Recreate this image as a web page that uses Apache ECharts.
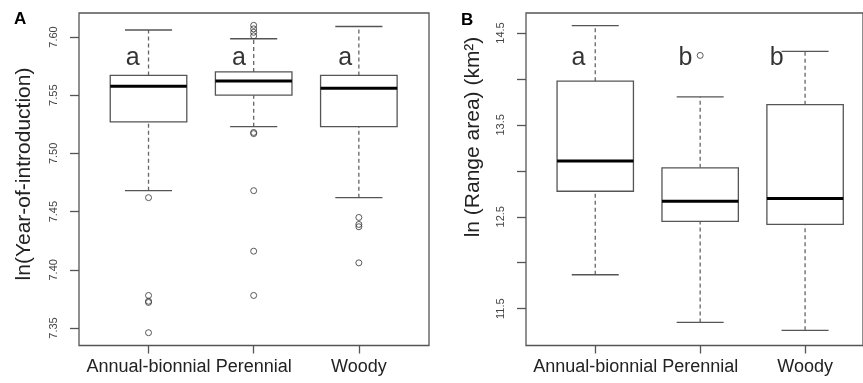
<!DOCTYPE html>
<html>
<head>
<meta charset="utf-8">
<script src="https://cdn.jsdelivr.net/npm/echarts@6/dist/echarts.min.js"></script>
<style>
  html, body { margin: 0; padding: 0; background: #fff; }
  #chart { width: 863px; height: 383px; }
</style>
</head>
<body>
<div id="chart"></div>
<script>
// 数据
var categories = ['Annual-bionnial', 'Perennial', 'Woody']

// [lower whisker, Q1, median, Q3, upper whisker]
var yearStats = [
  [7.468, 7.527, 7.5576, 7.567, 7.606],
  [7.523, 7.550, 7.5622, 7.570, 7.5985],
  [7.462, 7.523, 7.556, 7.567, 7.609]
]
// [category index, value]
var yearOutliers = [
  [1, 7.462], [1, 7.378], [1, 7.373], [1, 7.372], [1, 7.346],
  [2, 7.610], [2, 7.607], [2, 7.604], [2, 7.601], [2, 7.518], [2, 7.517],
  [2, 7.468], [2, 7.416], [2, 7.378],
  [3, 7.445], [3, 7.439], [3, 7.437], [3, 7.406]
]
var yearLetters = ['a', 'a', 'a']
var yearTicks = [7.35, 7.40, 7.45, 7.50, 7.55, 7.60]

var rangeStats = [
  [11.869, 12.778, 13.106, 13.976, 14.58],
  [11.35, 12.451, 12.669, 13.033, 13.805],
  [11.264, 12.418, 12.699, 13.72, 14.30]
]
var rangeOutliers = [
  [2, 14.256]
]
var rangeLetters = ['a', 'b', 'b']
var rangeTicks = [11.5, 12, 12.5, 13, 13.5, 14, 14.5]
var rangeTickLabels = [11.5, 12.5, 13.5, 14.5]

var FONT = '"Liberation Sans", Arial, sans-serif'

// 箱线图绘制
function boxItem (params, api) {
  var x = api.value(0)
  var lo = api.coord([x, api.value(1)])
  var q1 = api.coord([x, api.value(2)])
  var md = api.coord([x, api.value(3)])
  var q3 = api.coord([x, api.value(4)])
  var hi = api.coord([x, api.value(5)])
  var unit = api.size([1, 0])[0]
  var half = unit * 0.364
  var cap = unit * 0.224
  var cx = md[0]
  var edge = { stroke: '#555', lineWidth: 1.3 }
  var dash = { stroke: '#666', lineWidth: 1.3, lineDash: [4, 3] }
  return {
    type: 'group',
    children: [
      { type: 'line', shape: { x1: cx, y1: lo[1], x2: cx, y2: q1[1] }, style: dash },
      { type: 'line', shape: { x1: cx, y1: q3[1], x2: cx, y2: hi[1] }, style: dash },
      { type: 'line', shape: { x1: cx - cap, y1: lo[1], x2: cx + cap, y2: lo[1] }, style: edge },
      { type: 'line', shape: { x1: cx - cap, y1: hi[1], x2: cx + cap, y2: hi[1] }, style: edge },
      { type: 'rect', shape: { x: cx - half, y: q3[1], width: half * 2, height: q1[1] - q3[1] }, style: { fill: '#fff', stroke: '#555', lineWidth: 1.3 } },
      { type: 'line', shape: { x1: cx - half, y1: md[1], x2: cx + half, y2: md[1] }, style: { stroke: '#000', lineWidth: 3 } }
    ]
  }
}

function boxData (stats) {
  return stats.map(function (s, i) { return [i + 1].concat(s) })
}

function xAxisFor (idx, min, max) {
  return {
    type: 'value',
    gridIndex: idx,
    min: min,
    max: max,
    splitLine: { show: false },
    axisLine: { show: false },
    axisTick: { show: true, customValues: [1, 2, 3], length: 8, lineStyle: { color: '#555', width: 1.3 } },
    axisLabel: {
      customValues: [1, 2, 3],
      formatter: function (v) { return categories[Math.round(v) - 1] },
      hideOverlap: false,
      showMinLabel: true,
      showMaxLabel: true,
      fontFamily: FONT,
      fontSize: 18,
      color: '#222',
      margin: 13
    }
  }
}

function yAxisFor (idx, min, max, ticks, labels, digits) {
  return {
    type: 'value',
    gridIndex: idx,
    min: min,
    max: max,
    splitLine: { show: false },
    axisLine: { show: false },
    axisTick: { show: true, customValues: ticks, length: 9, lineStyle: { color: '#555', width: 1.3 } },
    axisLabel: {
      customValues: labels,
      formatter: function (v) { return v.toFixed(digits) },
      hideOverlap: false,
      rotate: 90,
      fontFamily: FONT,
      fontSize: 11,
      color: '#444',
      margin: 20
    }
  }
}

function letterSeries (idx, letters, yVal, offsets) {
  return {
    type: 'scatter',
    xAxisIndex: idx,
    yAxisIndex: idx,
    symbolSize: 0,
    silent: true,
    data: letters.map(function (t, i) {
      return { value: [i + 1 + offsets[i], yVal], name: t }
    }),
    label: {
      show: true,
      position: 'inside',
      formatter: '{b}',
      fontFamily: FONT,
      fontSize: 25,
      color: '#000'
    }
  }
}

function outlierSeries (idx, data) {
  return {
    type: 'scatter',
    xAxisIndex: idx,
    yAxisIndex: idx,
    symbol: 'circle',
    symbolSize: 6,
    silent: true,
    itemStyle: { color: 'rgba(255,255,255,0)', borderColor: '#333', borderWidth: 1 },
    data: data
  }
}

var chart = echarts.init(document.getElementById('chart'))
var option = {
  animation: false,
  title: [
    { text: 'A', left: 14, top: 11, padding: 0, textStyle: { fontFamily: FONT, fontSize: 17, fontWeight: 'bold', color: '#000' } },
    { text: 'B', left: 461, top: 12, padding: 0, textStyle: { fontFamily: FONT, fontSize: 17, fontWeight: 'bold', color: '#000' } }
  ],
  grid: [
    { left: 79, top: 13, right: 434, bottom: 37.5, show: true, borderColor: '#555', borderWidth: 1.3, backgroundColor: 'transparent' },
    { left: 526, top: 13, right: 0, bottom: 37.5, show: true, borderColor: '#555', borderWidth: 1.3, backgroundColor: 'transparent' }
  ],
  xAxis: [
    xAxisFor(0, 0.339, 3.667),
    xAxisFor(1, 0.34, 3.552)
  ],
  yAxis: [
    yAxisFor(0, 7.335, 7.6206, yearTicks, yearTicks, 2),
    yAxisFor(1, 11.099, 14.718, rangeTicks, rangeTickLabels, 1)
  ],
  graphic: [
    { type: 'text', x: 24, y: 174, rotation: Math.PI / 2, style: { text: 'ln(Year-of-introduction)', fontFamily: FONT, fontSize: 21, fill: '#222', align: 'center', verticalAlign: 'middle' } },
    { type: 'text', x: 473, y: 137, rotation: Math.PI / 2, style: { text: 'ln (Range area) (km²)', fontFamily: FONT, fontSize: 21, fill: '#222', align: 'center', verticalAlign: 'middle' } }
  ],
  series: [
    { type: 'custom', xAxisIndex: 0, yAxisIndex: 0, renderItem: boxItem, encode: { x: 0, y: [1, 2, 3, 4, 5] }, data: boxData(yearStats) },
    outlierSeries(0, yearOutliers),
    letterSeries(0, yearLetters, 7.582, [-0.15, -0.14, -0.13]),
    { type: 'custom', xAxisIndex: 1, yAxisIndex: 1, renderItem: boxItem, encode: { x: 0, y: [1, 2, 3, 4, 5] }, data: boxData(rangeStats) },
    outlierSeries(1, rangeOutliers),
    letterSeries(1, rangeLetters, 14.23, [-0.16, -0.14, -0.27])
  ]
}
chart.setOption(option)
</script>
</body>
</html>
